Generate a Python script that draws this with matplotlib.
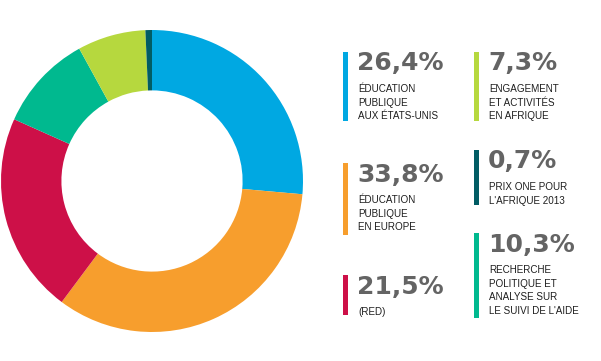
import matplotlib
matplotlib.use("Agg")
import matplotlib.pyplot as plt
from matplotlib.patches import Rectangle

# data
shares = [26.4, 33.8, 21.5, 10.3, 7.3, 0.7]
values = ["26,4%", "33,8%", "21,5%", "10,3%", "7,3%", "0,7%"]
labels = [
    "ÉDUCATION\nPUBLIQUE\nAUX ÉTATS-UNIS",
    "ÉDUCATION\nPUBLIQUE\nEN EUROPE",
    "(RED)",
    "RECHERCHE\nPOLITIQUE ET\nANALYSE SUR\nLE SUIVI DE L'AIDE",
    "ENGAGEMENT\nET ACTIVITÉS\nEN AFRIQUE",
    "PRIX ONE POUR\nL'AFRIQUE 2013",
]
colors = ["#00a8e2", "#f79e2d", "#cd1048", "#00b98f", "#b6d83e", "#015c64"]

W, H = 601, 361
fig = plt.figure(figsize=(W / 100, H / 100), dpi=100)

# donut
ax = fig.add_axes([1 / W, (H - 332) / H, 302 / W, 302 / H])
ax.pie(shares, colors=colors, startangle=90, counterclock=False,
       wedgeprops=dict(width=0.4, linewidth=0))
ax.set_xlim(-1, 1)
ax.set_ylim(-1, 1)
ax.set_aspect("equal")
ax.axis("off")

# legend blocks (pixel coords, y down)
ov = fig.add_axes([0, 0, 1, 1])
ov.set_xlim(0, W)
ov.set_ylim(H, 0)
ov.axis("off")

# x, top of bar, bottom of bar
blocks = [
    (343, 52, 121),
    (343, 163, 235),
    (343, 275, 315),
    (474, 233, 318),
    (474, 52, 121),
    (474, 150, 205),
]

for (x, y0, y1), val, lab, c in zip(blocks, values, labels, colors):
    ov.add_patch(Rectangle((x, y0), 4.5, y1 - y0, color=c, lw=0))
    ov.text(x + 14, y0 + 18.5, val, fontsize=18, fontweight="bold",
            family="DejaVu Sans", color="#646464", va="baseline", ha="left")
    for i, line in enumerate(lab.split("\n")):
        ov.text(x + 15, y0 + 40 + i * 13.6, line, fontsize=7.1,
                family="Liberation Sans", color="#1e1e1e",
                va="baseline", ha="left")

fig.savefig("out.png", dpi=100)
